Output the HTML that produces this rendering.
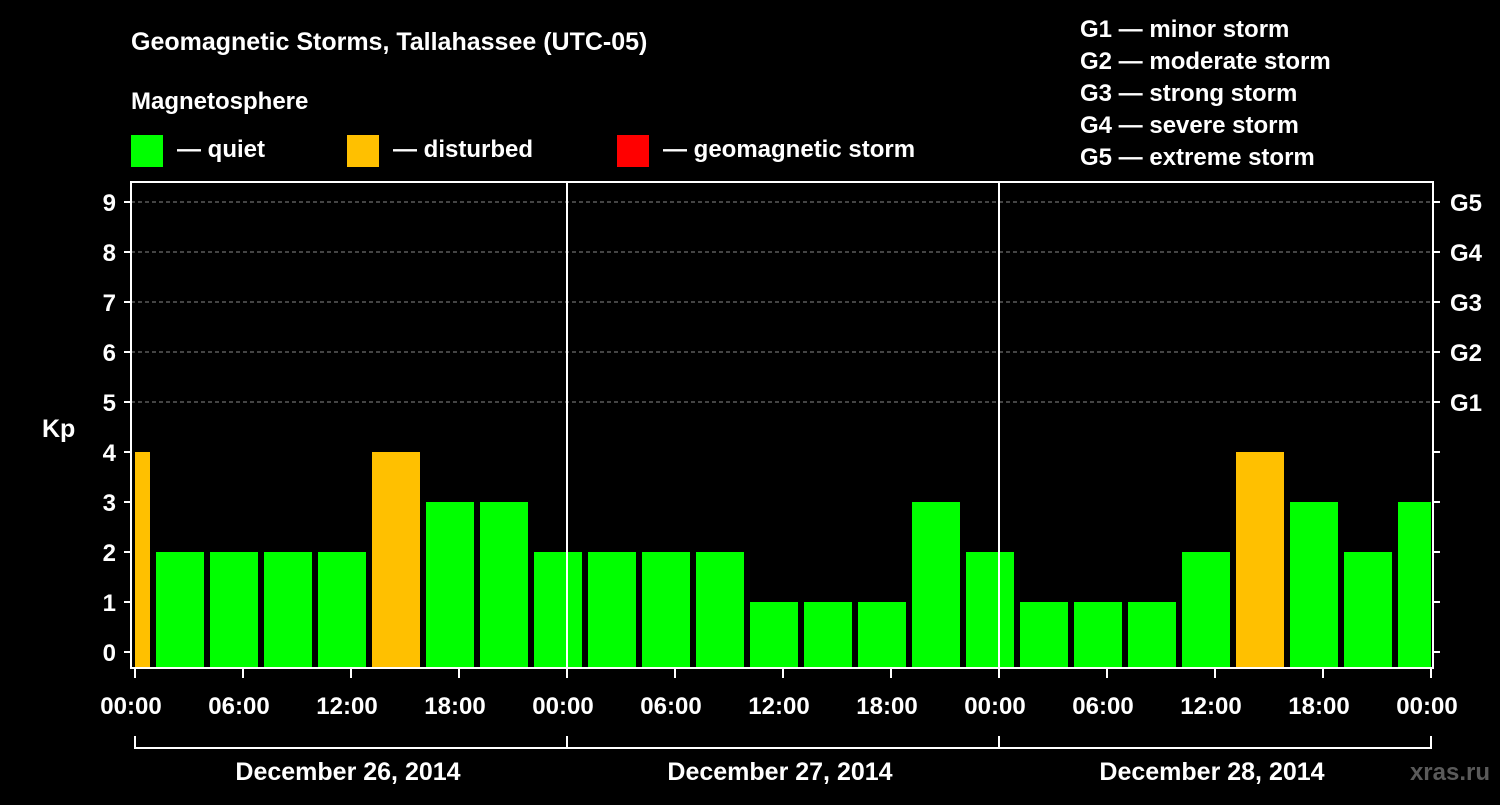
<!DOCTYPE html>
<html><head><meta charset="utf-8"><style>
body{margin:0;background:#000;width:1500px;height:800px;overflow:hidden}
svg text{font-family:"Liberation Sans",Arial,sans-serif;font-weight:bold;fill:#fff}
</style></head><body>
<svg id="chart" width="1500" height="800">
<text x="131" y="50" font-size="25">Geomagnetic Storms, Tallahassee (UTC-05)</text>
<text x="131" y="109" font-size="24">Magnetosphere</text>
<rect x="131" y="135" width="32" height="32" fill="#00ff00"/>
<text x="177" y="157" font-size="24">— quiet</text>
<rect x="347" y="135" width="32" height="32" fill="#ffc000"/>
<text x="393" y="157" font-size="24">— disturbed</text>
<rect x="617" y="135" width="32" height="32" fill="#ff0000"/>
<text x="663" y="157" font-size="24">— geomagnetic storm</text>
<g font-size="24">
<text x="1080" y="37">G1 — minor storm</text>
<text x="1080" y="69">G2 — moderate storm</text>
<text x="1080" y="101">G3 — strong storm</text>
<text x="1080" y="133">G4 — severe storm</text>
<text x="1080" y="165">G5 — extreme storm</text>
</g>
<text x="42" y="437" font-size="25">Kp</text>
<text x="1490" y="780" font-size="24" text-anchor="end" fill="#555" style="fill:#5a5a5a">xras.ru</text>
<g id="grid"></g><g id="bars"></g><g id="axes"></g>
</svg>
<script>
const kpValues=[4,2,2,2,2,4,3,3,2,2,2,2,1,1,1,3,2,1,1,1,2,4,3,2,3];
const startHours=[-2,1,4,7,10,13,16,19,22,25,28,31,34,37,40,43,46,49,52,55,58,61,64,67,70];
const yTicks=[0,1,2,3,4,5,6,7,8,9];
const gLabels=["G1","G2","G3","G4","G5"];
const xTickLabels=["00:00","06:00","12:00","18:00","00:00","06:00","12:00","18:00","00:00","06:00","12:00","18:00","00:00"];
const dayLabels=["December 26, 2014","December 27, 2014","December 28, 2014"];
const NS="http://www.w3.org/2000/svg";
const X0=135,PH=18,Y0=652,PU=50,TOP=182,BOT=668,XL=131,XR=1433,XE=X0+72*PH;
const xs=h=>X0+h*PH, ys=v=>Y0-v*PU;
function mk(tag,at,parent){const e=document.createElementNS(NS,tag);for(const k in at)e.setAttribute(k,at[k]);document.getElementById(parent).appendChild(e);return e;}
yTicks.forEach(v=>{if(v>=5){const l=mk('line',{x1:XL,x2:XR,y1:ys(v),y2:ys(v),stroke:'#888','stroke-dasharray':'4,3'},'grid');

}});
kpValues.forEach((v,i)=>{let a=Math.max(xs(startHours[i])+3,X0),b=Math.min(xs(startHours[i]+3)-3,XE);
const r=mk('rect',{x:a,y:ys(v),width:b-a,height:BOT-ys(v),fill:v>=5?'#ff0000':(v>=4?'#ffc000':'#00ff00')},'bars');

});
[567,999].forEach((x,i)=>{const l=mk('line',{x1:x,x2:x,y1:TOP,y2:BOT,stroke:'#fff','stroke-width':2},'axes');

});
const fr=mk('rect',{x:XL,y:TOP,width:XR-XL,height:BOT-TOP,fill:'none',stroke:'#fff','stroke-width':2},'axes');


yTicks.forEach(v=>{mk('line',{x1:XL-7,x2:XL,y1:ys(v),y2:ys(v),stroke:'#fff','stroke-width':2},'axes');
mk('line',{x1:XR,x2:XR+7,y1:ys(v),y2:ys(v),stroke:'#fff','stroke-width':2},'axes');
const t=mk('text',{x:116,y:ys(v)+9,'font-size':24,'text-anchor':'end'},'axes');t.textContent=v;

});
gLabels.forEach((g,i)=>{const t=mk('text',{x:1450,y:ys(i+5)+9,'font-size':24},'axes');t.textContent=g;

});
xTickLabels.forEach((s,i)=>{const x=xs(i*6);mk('line',{x1:x,x2:x,y1:BOT,y2:BOT+10,stroke:'#fff','stroke-width':2},'axes');
const t=mk('text',{x:x-4,y:714,'font-size':24,'text-anchor':'middle'},'axes');t.textContent=s;

});
const bl=mk('line',{x1:X0,x2:XE,y1:748,y2:748,stroke:'#fff','stroke-width':2},'axes');


[0,1,2,3].forEach(d=>mk('line',{x1:xs(d*24),x2:xs(d*24),y1:736,y2:749,stroke:'#fff','stroke-width':2},'axes'));
dayLabels.forEach((s,i)=>{const t=mk('text',{x:xs(i*24+12)-133+130,y:780,'font-size':25,'text-anchor':'middle'},'axes');t.textContent=s;

});
</script>
</body></html>
